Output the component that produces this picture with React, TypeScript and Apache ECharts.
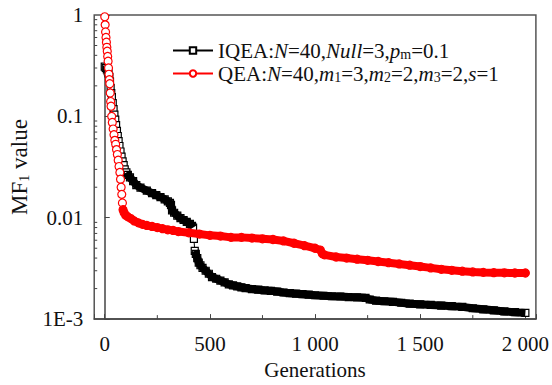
import { useEffect, useRef } from "react";
import * as echarts from "echarts";

// IQEA: N=40, Null=3, pm=0.1
const iqeaGenerations = [
  0, 5, 10, 14, 18, 22, 25, 28, 31, 34, 38, 42, 46, 50, 54, 58, 62, 66, 70, 75, 80, 85, 90, 95, 103, 110, 120, 135, 150, 170,
  200, 225, 245, 265, 285, 300, 310, 315, 320, 330, 345, 360, 375, 390, 405, 415, 420, 424, 428, 433, 440, 447, 455, 465, 480,
  495, 510, 530, 550, 570, 590, 610, 630, 650, 670, 700, 730, 760, 790, 820, 850, 880, 910, 940, 970, 1000, 1040, 1080, 1120,
  1160, 1200, 1240, 1260, 1290, 1330, 1370, 1410, 1450, 1500, 1550, 1600, 1650, 1700, 1750, 1800, 1850, 1900, 1950, 2000,
];
const iqeaValues = [
  0.31, 0.3, 0.29, 0.28, 0.265, 0.245, 0.22, 0.19, 0.17, 0.155, 0.135, 0.118, 0.104, 0.093, 0.082, 0.072, 0.064, 0.057, 0.051,
  0.045, 0.04, 0.036, 0.033, 0.03, 0.028, 0.0265, 0.025, 0.023, 0.021, 0.0198, 0.0185, 0.0175, 0.0167, 0.016, 0.0152, 0.0145,
  0.014, 0.0134, 0.0118, 0.0112, 0.0105, 0.0099, 0.0095, 0.0091, 0.0087, 0.0083, 0.008, 0.0062, 0.0047, 0.0044, 0.004, 0.0036,
  0.0034, 0.0032, 0.003, 0.0028, 0.0026, 0.0025, 0.0024, 0.0023, 0.0022, 0.00215, 0.0021, 0.00206, 0.00202, 0.00198, 0.00195,
  0.00192, 0.0019, 0.00187, 0.00183, 0.0018, 0.00178, 0.00176, 0.00174, 0.00172, 0.0017, 0.00168, 0.00167, 0.00165, 0.00164,
  0.00162, 0.00156, 0.00152, 0.0015, 0.00148, 0.00145, 0.00142, 0.0014, 0.00138, 0.00136, 0.00134, 0.00132, 0.00128, 0.00125,
  0.00122, 0.00119, 0.00117, 0.00115,
];

// QEA: N=40, m1=3, m2=2, m3=2, s=1
const qeaGenerations = [
  0, 2, 4, 6, 8, 10, 12, 14, 16, 18, 20, 22, 24, 26, 28, 30, 33, 36, 40, 44, 48, 52, 56, 60, 64, 68, 72, 75, 78, 81, 84, 87, 92,
  100, 110, 125, 140, 160, 180, 200, 225, 250, 275, 300, 325, 350, 400, 450, 500, 550, 600, 650, 700, 750, 800, 850, 900, 950,
  1000, 1025, 1035, 1045, 1100, 1150, 1200, 1250, 1300, 1350, 1400, 1450, 1500, 1550, 1600, 1650, 1700, 1750, 1800, 1850, 1900,
  1950, 2000,
];
const qeaValues = [
  0.96, 0.8, 0.68, 0.6, 0.54, 0.48, 0.44, 0.39, 0.35, 0.3, 0.26, 0.23, 0.21, 0.17, 0.14, 0.126, 0.1, 0.087, 0.075, 0.066, 0.058,
  0.053, 0.047, 0.042, 0.037, 0.032, 0.028, 0.024, 0.02, 0.017, 0.014, 0.012, 0.0112, 0.0106, 0.0102, 0.0098, 0.0093, 0.0089,
  0.0086, 0.0084, 0.0082, 0.008, 0.0078, 0.0076, 0.0075, 0.0073, 0.0071, 0.0069, 0.0067, 0.0066, 0.0064, 0.0064, 0.0063,
  0.0062, 0.0061, 0.0059, 0.0056, 0.0053, 0.005, 0.0048, 0.0044, 0.0043, 0.0041, 0.004, 0.0039, 0.0038, 0.0037, 0.0036, 0.0035,
  0.0034, 0.0033, 0.0032, 0.0031, 0.00303, 0.00297, 0.00292, 0.00289, 0.00287, 0.00286, 0.00285, 0.00285,
];

const xMajorTicks = [0, 500, 1000, 1500, 2000];
const xMinorTicks = [250, 750, 1250, 1750];
const yMinorTicks = [
  0.002, 0.003, 0.004, 0.005, 0.006, 0.007, 0.008, 0.009,
  0.02, 0.03, 0.04, 0.05, 0.06, 0.07, 0.08, 0.09,
  0.2, 0.3, 0.4, 0.5, 0.6, 0.7, 0.8, 0.9,
];

const X_MIN = -50;
const X_MAX = 2050;
const Y_MIN = 0.001;
const Y_MAX = 1;

const SERIF = "Liberation Serif";
const AXIS_COLOR = "#444";
const TEXT_COLOR = "#111";

const fmtX = (v: number) => {
  if (!xMajorTicks.includes(v)) return "";
  if (v >= 1000) return `${Math.floor(v / 1000)} ${String(v % 1000).padStart(3, "0")}`;
  return String(v);
};
const fmtY = (v: number) => {
  const e = Math.round(Math.log10(v));
  if (e >= -2) return String(Number(Math.pow(10, e).toFixed(2)));
  return `1E${e}`;
};

export default function App() {
  const ref = useRef<HTMLDivElement>(null);

  useEffect(() => {
    const chart = echarts.init(ref.current!, null, { renderer: "svg" });

    const iqeaData = iqeaGenerations.map((g, i) => [g, iqeaValues[i]]);
    const qeaData = qeaGenerations.map((g, i) => [g, qeaValues[i]]);
    const iqeaBand: any[] = [
      ...iqeaData.filter((d) => d[0] >= 100 && d[0] <= 420),
      [422, "-"],
      ...iqeaData.filter((d) => d[0] >= 428),
    ];
    const qeaBand = qeaData.filter((d) => d[0] >= 87);

    const tickSeries = (data: number[][], dir: "x" | "y", len: number) => ({
      type: "custom",
      silent: true,
      z: 10,
      clip: false,
      data,
      renderItem: (_p: any, api: any) => {
        const p = api.coord([api.value(0), api.value(1)]);
        return {
          type: "line",
          shape:
            dir === "y"
              ? { x1: p[0], y1: p[1], x2: p[0] + len, y2: p[1] }
              : { x1: p[0], y1: p[1], x2: p[0], y2: p[1] - len },
          style: { stroke: AXIS_COLOR, lineWidth: 1 },
        };
      },
    });

    const richSub = { fontFamily: SERIF, fontSize: 14, padding: [7, 0, 0, 0], color: TEXT_COLOR };
    const richIt = { fontFamily: SERIF, fontSize: 21, fontStyle: "italic", color: TEXT_COLOR };

    chart.setOption({
      animation: false,
      backgroundColor: "#fff",
      grid: {
        left: 94,
        right: 10,
        top: 15,
        bottom: 53,
        show: true,
        borderColor: "#555",
        borderWidth: 1.5,
      },
      legend: {
        data: ["IQEA", "QEA"],
        orient: "vertical",
        left: 172,
        top: 40,
        padding: 0,
        itemWidth: 40,
        itemHeight: 8,
        itemGap: 2,
        textStyle: {
          fontFamily: SERIF,
          fontSize: 21,
          color: TEXT_COLOR,
          lineHeight: 21,
          rich: { i: richIt, s: richSub },
        },
        formatter: (name: string) =>
          name === "IQEA"
            ? "IQEA:{i|N}=40,{i|Null}=3,{i|p}{s|m}=0.1"
            : "QEA:{i|N}=40,{i|m}{s|1}=3,{i|m}{s|2}=2,{i|m}{s|3}=2,{i|s}=1",
      },
      xAxis: {
        type: "value",
        min: X_MIN,
        max: X_MAX,
        name: "Generations",
        nameLocation: "middle",
        nameGap: 21,
        nameTextStyle: { fontFamily: SERIF, fontSize: 21, color: TEXT_COLOR },
        axisLine: { show: true, lineStyle: { color: AXIS_COLOR, width: 1.5 } },
        axisTick: { show: true, inside: true, length: 5, lineStyle: { color: AXIS_COLOR } },
        axisLabel: {
          fontFamily: SERIF,
          fontSize: 21,
          color: TEXT_COLOR,
          margin: 14,
          formatter: fmtX,
          showMinLabel: true,
          showMaxLabel: true,
        },
        splitLine: { show: false },
      },
      yAxis: {
        type: "log",
        logBase: 10,
        min: Y_MIN,
        max: Y_MAX,
        name: "MF{s|1} value",
        nameLocation: "middle",
        nameRotate: 90,
        nameGap: 62,
        nameTextStyle: {
          fontFamily: SERIF,
          fontSize: 23,
          color: TEXT_COLOR,
          rich: { s: { fontFamily: SERIF, fontSize: 14, padding: [10, 0, 0, 0], color: TEXT_COLOR } },
        },
        axisLine: { show: true, lineStyle: { color: AXIS_COLOR, width: 1.5 } },
        axisTick: { show: true, inside: true, length: 5, lineStyle: { color: AXIS_COLOR } },
        axisLabel: { fontFamily: SERIF, fontSize: 21, color: TEXT_COLOR, margin: 11, formatter: fmtY },
        splitLine: { show: false },
      },
      series: [
        {
          name: "IQEA",
          type: "line",
          data: iqeaData,
          z: 2,
          symbol: "rect",
          symbolSize: 7,
          showAllSymbol: true,
          lineStyle: { color: "#000", width: 1 },
          itemStyle: { color: "#fff", borderColor: "#000", borderWidth: 1.2 },
        },
        {
          name: "IQEA band",
          type: "line",
          data: iqeaBand,
          z: 3,
          silent: true,
          showSymbol: false,
          symbol: "none",
          connectNulls: false,
          lineStyle: { color: "#000", width: 8, cap: "butt" },
          itemStyle: { color: "#000" },
        },
        {
          name: "QEA",
          type: "line",
          data: qeaData,
          z: 4,
          symbol: "circle",
          symbolSize: 8,
          showAllSymbol: true,
          lineStyle: { color: "#f00", width: 1 },
          itemStyle: { color: "#fff", borderColor: "#f00", borderWidth: 1.2 },
        },
        {
          name: "QEA band",
          type: "line",
          data: qeaBand,
          z: 5,
          silent: true,
          showSymbol: false,
          symbol: "none",
          lineStyle: { color: "#f00", width: 8, cap: "round" },
          itemStyle: { color: "#f00" },
        },
        tickSeries(yMinorTicks.map((v) => [X_MIN, v]), "y", 3),
        tickSeries(xMinorTicks.map((v) => [v, Y_MIN]), "x", 4),
      ],
    });

    return () => chart.dispose();
  }, []);

  return (
    <div
      ref={ref}
      style={{ position: "fixed", left: 0, top: 0, width: 552, height: 385, background: "#fff" }}
    />
  );
}
